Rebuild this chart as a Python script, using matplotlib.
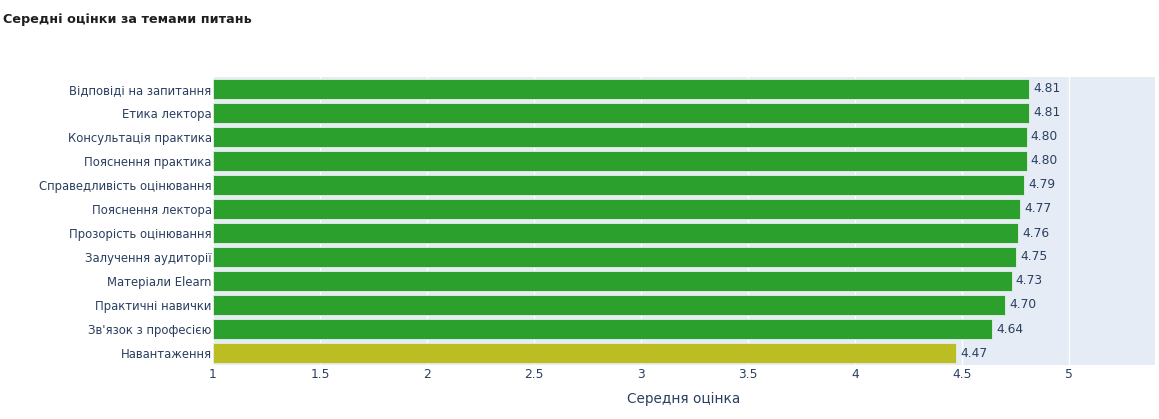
import matplotlib.pyplot as plt

topics = ["Відповіді на запитання", "Етика лектора", "Консультація практика",
          "Пояснення практика", "Справедливість оцінювання", "Пояснення лектора",
          "Прозорість оцінювання", "Залучення аудиторії", "Матеріали Elearn",
          "Практичні навички", "Зв'язок з професією", "Навантаження"]
scores = [4.81, 4.81, 4.80, 4.80, 4.79, 4.77, 4.76, 4.75, 4.73, 4.70, 4.64, 4.47]
bar_colors = ["#2ca02c"] * 11 + ["#bcbd22"]
xticks = [1, 1.5, 2, 2.5, 3, 3.5, 4, 4.5, 5]
xtick_labels = ["1", "1.5", "2", "2.5", "3", "3.5", "4", "4.5", "5"]

txt = "#2a3f5f"
plt.rcParams['font.family'] = ['DejaVu Sans']

fig = plt.figure(figsize=(11.59, 4.19), dpi=100)
ax = fig.add_axes([213 / 1159, 54 / 419, 942 / 1159, 288 / 419])
ax.set_facecolor("#E5ECF6")

ypos = list(range(len(topics)))[::-1]
ax.barh(ypos, [s - 1 for s in scores], left=1, height=0.8, color=bar_colors,
        edgecolor="#e6efe6", linewidth=0.6, zorder=3)
for y, s in zip(ypos, scores):
    ax.text(s + 0.02, y, f"{s:.2f}", va="center", ha="left", fontsize=8.8,
            color=txt, zorder=4)

ax.set_xlim(1, 5.4)
ax.set_ylim(-0.5, len(topics) - 0.5)
ax.set_xticks(xticks)
ax.set_xticklabels(xtick_labels)
ax.set_yticks(ypos)
ax.set_yticklabels(topics)
ax.grid(axis="x", color="white", linewidth=1, zorder=1)
ax.set_axisbelow(True)
for sp in ax.spines.values():
    sp.set_visible(False)
ax.tick_params(axis="both", length=0, colors=txt, labelsize=8.8)
ax.tick_params(axis="y", pad=1, labelsize=8.4)
ax.tick_params(axis="x", pad=2)
ax.set_xlabel("Середня оцінка", fontsize=9.8, color=txt, labelpad=8)

fig.text(3 / 1159, 1 - 20 / 419, "Середні оцінки за темами питань", fontsize=9.2,
         fontweight="bold", color="#1f1f1f", va="center", ha="left")

fig.savefig("out.png", dpi=100, facecolor="white")
